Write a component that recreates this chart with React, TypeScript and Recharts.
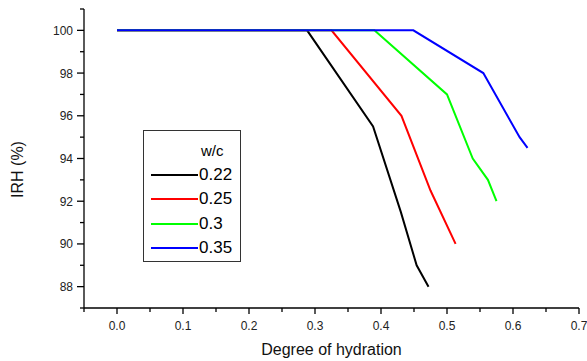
import { Label, Line, LineChart, XAxis, YAxis } from "recharts"

// degree of hydration vs internal relative humidity, per w/c ratio
const wc022 = [
    { x: 0.0, y: 100 },
    { x: 0.288, y: 100 },
    { x: 0.388, y: 95.5 },
    { x: 0.43, y: 91.5 },
    { x: 0.454, y: 89.0 },
    { x: 0.472, y: 88.0 },
]
const wc025 = [
    { x: 0.0, y: 100 },
    { x: 0.325, y: 100 },
    { x: 0.431, y: 96.0 },
    { x: 0.475, y: 92.5 },
    { x: 0.513, y: 90.0 },
]
const wc030 = [
    { x: 0.0, y: 100 },
    { x: 0.39, y: 100 },
    { x: 0.5, y: 97.0 },
    { x: 0.539, y: 94.0 },
    { x: 0.562, y: 93.0 },
    { x: 0.575, y: 92.0 },
]
const wc035 = [
    { x: 0.0, y: 100 },
    { x: 0.449, y: 100 },
    { x: 0.555, y: 98.0 },
    { x: 0.61, y: 95.0 },
    { x: 0.622, y: 94.5 },
]

const series = [
    { name: "0.22", data: wc022, color: "#000000" },
    { name: "0.25", data: wc025, color: "#ff0000" },
    { name: "0.3", data: wc030, color: "#00ff00" },
    { name: "0.35", data: wc035, color: "#0000ff" },
]

const xTicks = [-0.05, 0, 0.05, 0.1, 0.15, 0.2, 0.25, 0.3, 0.35, 0.4, 0.45, 0.5, 0.55, 0.6, 0.65, 0.7]
const xLabels = ["0.0", "0.1", "0.2", "0.3", "0.4", "0.5", "0.6", "0.7"]
const yTicks = [87, 88, 89, 90, 91, 92, 93, 94, 95, 96, 97, 98, 99, 100, 101]

const font = "Arial, 'Liberation Sans', sans-serif"

function XTick(props: any) {
    const { x, y, payload } = props
    const v = payload.value
    const idx = Math.round(v * 10)
    const major = Math.abs(v * 10 - idx) < 1e-6 && idx >= 0
    return (
        <g>
            <line x1={x} x2={x} y1={y} y2={y + (major ? 6 : 4)} stroke="#000" strokeWidth={1.3} />
            {major && (
                <text x={x} y={y + 22} textAnchor="middle" fontSize={12} fontFamily={font} fill="#222">
                    {xLabels[idx]}
                </text>
            )}
        </g>
    )
}

function YTick(props: any) {
    const { x, y, payload } = props
    const v = payload.value
    const major = v % 2 === 0
    return (
        <g>
            <line x1={x} x2={x - (major ? 7 : 4)} y1={y} y2={y} stroke="#000" strokeWidth={1.3} />
            {major && (
                <text x={x - 11} y={y + 4.5} textAnchor="end" fontSize={12} fontFamily={font} fill="#222">
                    {v}
                </text>
            )}
        </g>
    )
}

function YTitle(props: any) {
    const vb = props.viewBox
    const cx = vb.x + vb.width - 67
    const cy = vb.y + vb.height / 2 + 11
    return (
        <text
            x={cx}
            y={cy}
            transform={`rotate(-90 ${cx} ${cy})`}
            textAnchor="middle"
            dominantBaseline="central"
            fontSize={16}
            fontFamily={font}
            fill="#111"
        >
            IRH (%)
        </text>
    )
}

function LegendBox() {
    return (
        <div
            style={{
                position: "absolute",
                left: 143,
                top: 130,
                width: 98,
                height: 132,
                border: "1px solid #333",
                background: "#fff",
                fontFamily: font,
                boxSizing: "border-box",
            }}
        >
            <div style={{ position: "absolute", left: 57, top: 11, fontSize: 15 }}>w/c</div>
            {series.map((s, i) => (
                <div key={s.name} style={{ position: "absolute", left: 7, top: 34 + i * 24.3, display: "flex", alignItems: "center" }}>
                    <div style={{ width: 47, height: 2, background: s.color }} />
                    <span style={{ fontSize: 17, marginLeft: 1, lineHeight: "20px" }}>{s.name}</span>
                </div>
            ))}
        </div>
    )
}

export default function App() {
    return (
        <div style={{ position: "absolute", left: 0, top: 0, width: 587, height: 361, background: "#fff" }}>
            <LineChart width={587} height={361} margin={{ top: 9, right: 8, bottom: 23, left: 24 }}>
                <XAxis
                    type="number"
                    dataKey="x"
                    domain={[-0.05, 0.7]}
                    ticks={xTicks}
                    allowDataOverflow
                    height={30}
                    tickSize={0}
                    tickMargin={0}
                    tickLine={false}
                    tick={<XTick />}
                    interval={0}
                    axisLine={{ stroke: "#000", strokeWidth: 1.3 }}
                >
                    <Label value="Degree of hydration" position="bottom" offset={6} fontSize={16} fontFamily={font} fill="#111" />
                </XAxis>
                <YAxis
                    type="number"
                    dataKey="y"
                    domain={[87, 101]}
                    ticks={yTicks}
                    allowDataOverflow
                    width={60}
                    tickSize={0}
                    tickMargin={0}
                    tickLine={false}
                    tick={<YTick />}
                    interval={0}
                    axisLine={{ stroke: "#000", strokeWidth: 1.3 }}
                >
                    <Label content={<YTitle />} />
                </YAxis>
                {series.map((s) => (
                    <Line
                        key={s.name}
                        name={s.name}
                        data={s.data}
                        dataKey="y"
                        type="linear"
                        stroke={s.color}
                        strokeWidth={2}
                        dot={false}
                        isAnimationActive={false}
                    />
                ))}
            </LineChart>
            <LegendBox />
        </div>
    )
}
